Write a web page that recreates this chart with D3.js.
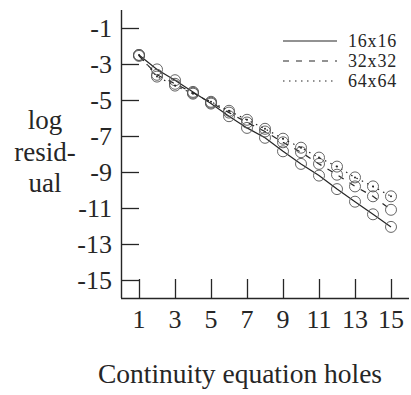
<!DOCTYPE html>
<html>
<head>
<meta charset="utf-8">
<script src="https://cdn.jsdelivr.net/npm/d3@7"></script>
<style>
  html, body { margin: 0; padding: 0; background: #fff; }
  svg { display: block; }
  text { font-family: "Liberation Serif", "Times New Roman", serif; fill: #262626; }
</style>
</head>
<body>
<svg id="chart" width="411" height="395"></svg>
<script>
// Number of continuity-equation holes (x) and log residual per grid size
const holes = [1, 2, 3, 4, 5, 6, 7, 8, 9, 10, 11, 12, 13, 14, 15];
const res16 = [-2.5, -3.3, -3.9, -4.55, -5.2, -5.9, -6.55, -7.1, -7.85, -8.55, -9.2, -9.95, -10.65, -11.35, -12.05];
const res32 = [-2.55, -3.6, -4.1, -4.6, -5.15, -5.7, -6.25, -6.75, -7.35, -7.9, -8.55, -9.15, -9.8, -10.35, -11.1];
const res64 = [-2.5, -3.7, -4.2, -4.65, -5.1, -5.6, -6.1, -6.6, -7.15, -7.65, -8.2, -8.7, -9.3, -9.8, -10.35];
const seriesNames = ["16x16", "32x32", "64x64"];
const xTicks = [1, 3, 5, 7, 9, 11, 13, 15];
const yTicks = [-1, -3, -5, -7, -9, -11, -13, -15];

const series = [
  { name: seriesNames[0], values: res16, dash: null, dot: false },
  { name: seriesNames[1], values: res32, dash: "6,7", dot: false },
  { name: seriesNames[2], values: res64, dash: "1.5,4.5", dot: true }
];

const svg = d3.select("#chart");
const plotLeft = 121, plotTop = 10, plotSize = 288;

const x = d3.scaleLinear().domain([0, 16]).range([plotLeft, plotLeft + plotSize]);
const y = d3.scaleLinear().domain([-16, 0]).range([plotTop + plotSize, plotTop]);

const ink = "#262626";

// Axes: ticks point inward, domain line only along the left and bottom
const yAxis = d3.axisRight(y).tickValues(yTicks).tickSize(18).tickFormat("");
const gy = svg.append("g").attr("transform", `translate(${plotLeft},0)`).call(yAxis);
const xAxis = d3.axisTop(x).tickValues(xTicks).tickSize(19).tickFormat("");
const gx = svg.append("g").attr("transform", `translate(0,${plotTop + plotSize})`).call(xAxis);
[gx, gy].forEach(g => {
  g.select(".domain").attr("stroke", ink).attr("stroke-width", 1.4);
  g.selectAll(".tick line").attr("stroke", ink).attr("stroke-width", 1.3);
});
gy.select(".domain").attr("d", `M0.5,${plotTop}V${plotTop + plotSize}`);
gx.select(".domain").attr("d", `M${plotLeft},0.5H${plotLeft + plotSize}`);

// Tick labels
svg.append("g").selectAll("text").data(yTicks).join("text")
  .attr("x", 112).attr("y", d => y(d)).attr("dy", "0.35em")
  .attr("text-anchor", "end").attr("font-size", 26)
  .text(d => "-" + Math.abs(d));
svg.append("g").selectAll("text").data(xTicks).join("text")
  .attr("x", d => x(d)).attr("y", 328)
  .attr("text-anchor", "middle").attr("font-size", 26)
  .text(d => d);

// Axis titles
const yTitle = svg.append("text").attr("text-anchor", "middle").attr("font-size", 27);
["log", "resid-", "ual"].forEach((s, i) => {
  yTitle.append("tspan").attr("x", 45).attr("y", 129 + i * 31.5).text(s);
});
svg.append("text").attr("x", 240).attr("y", 383).attr("text-anchor", "middle")
  .attr("font-size", 27.5).text("Continuity equation holes");

// Lines and markers
const line = d3.line().x((d, i) => x(holes[i])).y(d => y(d));
series.forEach(s => {
  svg.append("path").datum(s.values)
    .attr("d", line).attr("fill", "none")
    .attr("stroke", ink).attr("stroke-width", 1.2)
    .attr("stroke-dasharray", s.dash);
  const g = svg.append("g");
  g.selectAll("circle").data(s.values).join("circle")
    .attr("cx", (d, i) => x(holes[i])).attr("cy", d => y(d)).attr("r", 5.5)
    .attr("fill", "none").attr("stroke", "#555").attr("stroke-width", 0.9);
  if (s.dot) {
    g.selectAll("circle.c").data(s.values).join("circle").attr("class", "c")
      .attr("cx", (d, i) => x(holes[i])).attr("cy", d => y(d)).attr("r", 1)
      .attr("fill", ink);
  }
});

// Legend
const lg = svg.append("g");
series.forEach((s, i) => {
  const ly = 41 + i * 20;
  lg.append("line").attr("x1", 283).attr("x2", 337).attr("y1", ly).attr("y2", ly)
    .attr("stroke", ink).attr("stroke-width", 1.2).attr("stroke-dasharray", s.dash);
  lg.append("text").attr("x", 348).attr("y", ly).attr("dy", "0.35em")
    .attr("font-size", 18).attr("letter-spacing", 0.8).text(s.name);
});
</script>
</body>
</html>
